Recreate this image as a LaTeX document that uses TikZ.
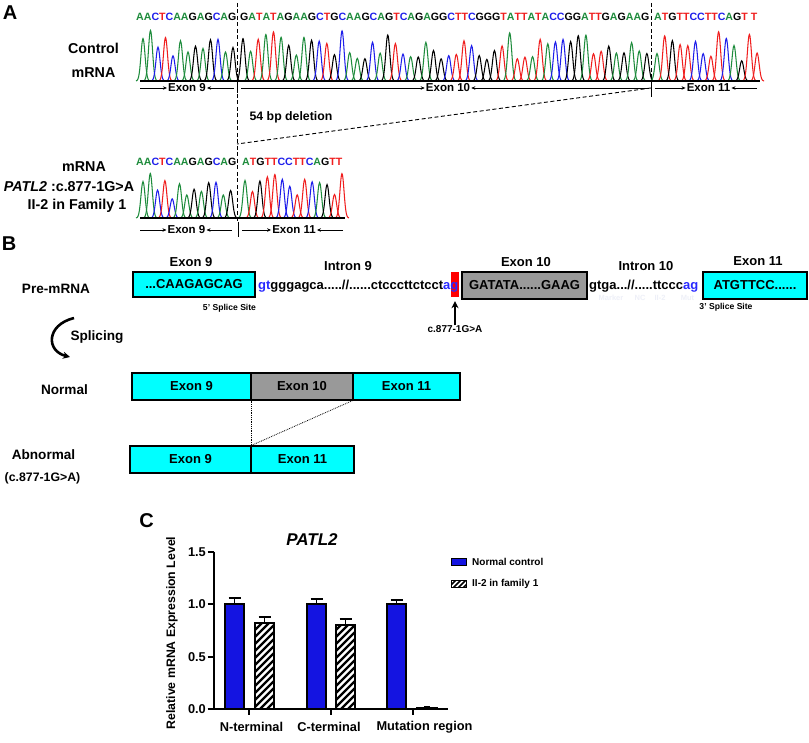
\documentclass[tikz,border=0pt]{standalone}
\usepackage{fontspec}
\setmainfont{Liberation Sans}
\usetikzlibrary{arrows.meta}
\definecolor{cA}{RGB}{30,140,60}
\definecolor{cC}{RGB}{30,30,235}
\definecolor{cG}{RGB}{0,0,0}
\definecolor{cT}{RGB}{240,30,30}
\definecolor{cyanb}{RGB}{0,255,255}
\definecolor{grayb}{RGB}{153,153,153}
\definecolor{blueb}{RGB}{20,20,225}
\definecolor{blueseq}{RGB}{40,40,255}
\definecolor{ghost}{RGB}{238,240,248}
\newcommand\myfs[1]{\fontsize{#1}{#1}\selectfont\bfseries}
\newcommand\seqc[1]{\if A#1\textcolor{cA}{A}\else\if C#1\textcolor{cC}{C}\else\if G#1\textcolor{cG}{G}\else\if T#1\textcolor{cT}{T}\else#1\fi\fi\fi\fi}
\newcommand\seqloop[1]{\ifx\relax#1\else\seqc{#1}\expandafter\seqloop\fi}
\newcommand\dna[1]{\seqloop#1\relax}
\newcommand\chrom[6]{%
  \foreach \bs [count=\ii] in #1 {%
    \pgfmathsetmacro\px{#2+(\ii-1)*#3}%
    \pgfmathsetmacro\ph{#5+#6*rnd}%
    \draw[c\bs,peakline] plot[domain=-7:7,samples=23,smooth] ({\px+(\x)},{#4-\ph*exp(-0.12*(\x)*(\x))});
  }}
\newcommand\bluebar[4]{%
  \pgfmathsetmacro\yt{709-104.67*#3}\pgfmathsetmacro\ye{709-104.67*#4}\pgfmathsetmacro\xc{(#1+#2)/2}%
  \draw[errl] (\xc,\yt) -- (\xc,\ye) (\xc-6,\ye) -- (\xc+6,\ye);
  \draw[barl,fill=blueb] (#1,709) rectangle (#2,\yt);}
\newcommand\hatchbar[4]{%
  \pgfmathsetmacro\yt{709-104.67*#3}\pgfmathsetmacro\ye{709-104.67*#4}\pgfmathsetmacro\xc{(#1+#2)/2}%
  \draw[errl] (\xc,\yt) -- (\xc,\ye) (\xc-6,\ye) -- (\xc+6,\ye);
  \fill[white] (#1,709) rectangle (#2,\yt);
  \begin{scope}
    \clip (#1,709) rectangle (#2,\yt);
    \foreach \k in {-110,-103,...,30} {\draw[line width=2.3pt] ({#1+\k},712) -- ({#1+\k+115},597);}
  \end{scope}
  \draw[barl] (#1,709) rectangle (#2,\yt);}
\def\seqTa{A,A,C,T,C,A,A,G,A,G,C,A,G}
\def\seqTb{G,A,T,A,T,A,G,A,A,G,C,T,G,C,A,A,G,C,A,G,T,C,A,G,A,G,G,C,T,T,C,G,G,G,T,A,T,T,A,T,A,C,C,G,G,A,T,T,G,A,G,A,A,G}
\def\seqTc{A,T,G,T,T,C,C,T,T,C,A,G,T,T}
\begin{document}
\begin{tikzpicture}[x=1pt,y=-1pt,
  panel/.style={inner sep=0pt,font=\myfs{20}},
  lab/.style={inner sep=0pt,font=\myfs{14.3}},
  labB/.style={inner sep=0pt,font=\myfs{13.6}},
  exl/.style={inner sep=0pt,font=\myfs{13}},
  seqt/.style={inner sep=0pt,font=\myfs{10.6}},
  peakline/.style={line width=1.05pt},
  exlab/.style={inner sep=1pt,font=\myfs{11.5}},
  exarr/.style={-{Stealth[length=4pt,width=3.5pt]},line width=0.7pt},
  dshl/.style={dashed,dash pattern=on 4pt off 2.5pt,line width=0.9pt},
  cbox/.style={draw,line width=1.4pt,fill=cyanb,inner sep=0pt,font=\myfs{13}},
  btxt/.style={inner sep=0pt,font=\myfs{13}},
  ssite/.style={inner sep=0pt,font=\myfs{8.6}},
  dotl/.style={densely dotted,line width=0.8pt},
  splarr/.style={-{Stealth[length=7pt,width=7pt]},line width=2.6pt},
  mutarr/.style={-{Stealth[length=7pt,width=7pt]},line width=1.6pt},
  axisl/.style={line width=1.8pt},
  barl/.style={line width=1.8pt},
  errl/.style={line width=1.5pt},
  tick/.style={inner sep=0pt,font=\myfs{12.8}},
  legt/.style={inner sep=0pt,font=\myfs{10}}]
\useasboundingbox (0,0) rectangle (809,743);
\fill[white] (0,0) rectangle (809,743);

% ================= Panel A =================
\node[panel] (pA) at (10,13) {A};
\node[lab] (ctl) at (93.5,48) {Control};
\node[lab] (cm) at (93.5,73) {mRNA};

\node[seqt,anchor=base west] (sq1) at (136,21) {\dna{AACTCAAGAGCAG}};
\node[seqt,anchor=base west] (sq2) at (240,21) {\dna{GATATAGAAGCTGCAAGCAGTCAGAGGCTTCGGGTATTATACCGGATTGAGAAG}};
\node[seqt,anchor=base west] (sq3) at (654,21) {\dna{ATGTTCCTTCAGT}\ \dna{T}};

\pgfmathsetseed{11}
\chrom{\seqTa}{143}{7.5}{81}{24}{28}
\chrom{\seqTb}{243}{7.62}{81}{20}{32}
\chrom{\seqTc}{657}{7.7}{81}{20}{32}
\draw[line width=1.1pt] (140,81) -- (760,81);

% exon arrows (top)
\node[exlab] (t9) at (187,88) {Exon 9};
\coordinate (t9a) at (140,88); \coordinate (t9b) at (234,88);
\draw[exarr] (t9a) -- (t9.west); \draw[exarr] (t9b) -- (t9.east);
\node[exlab] (t10) at (448,88) {Exon 10};
\coordinate (t10a) at (241,88); \coordinate (t10b) at (648,88);
\draw[exarr] (t10a) -- (t10.west); \draw[exarr] (t10b) -- (t10.east);
\node[exlab] (t11) at (708.5,88) {Exon 11};
\coordinate (t11a) at (655,88); \coordinate (t11b) at (757,88);
\draw[exarr] (t11a) -- (t11.west); \draw[exarr] (t11b) -- (t11.east);

% dashed guides
\coordinate (dl1) at (237,3); \coordinate (dl2) at (237,222);
\coordinate (dr1) at (651,3); \coordinate (dr2) at (651,88);
\coordinate (dd) at (237,144);
\draw[dshl] (dl1) -- (dl2);
\draw[dshl] (dr1) -- (dr2);
\draw[dshl] (dr2) -- (dd);
\coordinate (tk1) at (651,80); \coordinate (tk2) at (651,97);
\draw[line width=1pt] (tk1) -- (tk2);
\coordinate (tk3) at (237,83); \coordinate (tk4) at (237,93);
\draw[line width=1pt] (tk3) -- (tk4);

\node[inner sep=0pt,font=\myfs{12.3}] (del) at (291,117) {54 bp deletion};

% lower chromatogram
\node[lab] (lm) at (84,167) {mRNA};
\node[lab] (lp) at (69,187) {\textit{PATL2} :c.877-1G>A};
\node[lab] (lf) at (77,206) {II-2 in Family 1};
\node[seqt,anchor=base west] (sq4) at (136,166) {\dna{AACTCAAGAGCAG}};
\node[seqt,anchor=base west] (sq5) at (242,166) {\dna{ATGTTCCTTCAGTT}};
\pgfmathsetseed{11}
\chrom{\seqTa}{143}{7.3}{218}{18}{28}
\chrom{\seqTc}{245}{7.46}{218}{18}{28}
\draw[line width=1.1pt] (140,218) -- (345,218);
\node[exlab] (l9) at (186.5,230) {Exon 9};
\coordinate (l9a) at (140,230); \coordinate (l9b) at (232,230);
\draw[exarr] (l9a) -- (l9.west); \draw[exarr] (l9b) -- (l9.east);
\node[exlab] (l11) at (294,230) {Exon 11};
\coordinate (l11a) at (242,230); \coordinate (l11b) at (343,230);
\draw[exarr] (l11a) -- (l11.west); \draw[exarr] (l11b) -- (l11.east);
\coordinate (tk5) at (238,222); \coordinate (tk6) at (238,237);
\draw[line width=1pt] (tk5) -- (tk6);

% ================= Panel B =================
\node[panel] (pB) at (9,244) {B};
\node[labB] (pre) at (56,289) {Pre-mRNA};
\node[exl] (lx9) at (191,262) {Exon 9};
\node[cbox,minimum width=122pt,minimum height=25pt] (bx9) at (194,284.5) {...CAAGAGCAG};
\node[ssite] (ss5) at (229.5,308) {5' Splice Site};
\node[exl] (in9) at (348,266) {Intron 9};
\node[fill=red,inner sep=0pt,minimum width=8pt,minimum height=25pt] (redbox) at (455,284.5) {};
\node[btxt,anchor=base west] (int9) at (258,289.5) {\textcolor{blueseq}{gt}gggagca.....//......ctcccttctcct\textcolor{blueseq}{ag}};
\node[inner sep=0pt,font=\myfs{10}] (mutl) at (455,329) {c.877-1G>A};
\draw[mutarr] (mutl.north) -- ([yshift=-4pt]redbox.south);
\node[exl] (lx10) at (526,262) {Exon 10};
\node[cbox,fill=grayb,minimum width=125pt,minimum height=27pt] (bx10) at (524.5,285.5) {GATATA......GAAG};
\node[exl] (in10) at (646,266) {Intron 10};
\node[btxt,anchor=base west] (int10) at (589,289.5) {gtga...//.....ttccc\textcolor{blueseq}{ag}};
\node[inner sep=0pt,font=\myfs{7.5},text=ghost] (g1) at (611,298) {Marker};
\node[inner sep=0pt,font=\myfs{7.5},text=ghost] (g2) at (640,298) {NC};
\node[inner sep=0pt,font=\myfs{7.5},text=ghost] (g3) at (660,298) {II-2};
\node[inner sep=0pt,font=\myfs{7.5},text=ghost] (g4) at (687.5,298) {Mut};
\node[exl] (lx11) at (758,261) {Exon 11};
\node[cbox,minimum width=104pt,minimum height=27pt] (bx11) at (755,285.5) {ATGTTCC......};
\node[ssite] (ss3) at (726,307) {3' Splice Site};

% splicing
\node[labB] (spl) at (97,337) {Splicing};
\coordinate (sp1) at (74,318); \coordinate (sp2) at (70,357);
\draw[splarr] (sp1) .. controls (46,325) and (46,351) .. (sp2);

% normal / abnormal
\node[labB] (nl) at (64.5,390) {Normal};
\node[cbox,minimum width=119pt,minimum height=27pt] (n9) at (191.5,386.5) {Exon 9};
\node[cbox,fill=grayb,minimum width=102pt,minimum height=27pt] (n10) at (302,386.5) {Exon 10};
\node[cbox,minimum width=107pt,minimum height=27pt] (n11) at (406.5,386.5) {Exon 11};
\node[labB] (abl) at (43.5,455) {Abnormal};
\node[inner sep=0pt,font=\myfs{12.3}] (abm) at (42.5,478) {(c.877-1G>A)};
\node[cbox,minimum width=121pt,minimum height=27pt] (a9) at (190.5,459.5) {Exon 9};
\node[cbox,minimum width=103pt,minimum height=27pt] (a11) at (302.5,459.5) {Exon 11};
\draw[dotl] (n9.south east) -- (a9.north east);
\draw[dotl] (n11.south west) -- (a9.north east);

% ================= Panel C =================
\node[panel] (pC) at (146.5,520.5) {C};
\node[inner sep=0pt,font=\fontsize{17}{17}\selectfont\bfseries\itshape] (ttl) at (312,540) {PATL2};
\node[rotate=90,inner sep=0pt,font=\myfs{12.3}] (ylab) at (172,633) {Relative mRNA Expression Level};

\bluebar{225}{244}{1}{1.06}
\hatchbar{255}{274}{0.82}{0.88}
\bluebar{307}{326}{1}{1.05}
\hatchbar{336}{355}{0.80}{0.86}
\bluebar{387}{406}{1}{1.04}
\draw[line width=1.2pt,fill=white] (417,709) rectangle (437,707.3);
\draw[line width=1pt] (427,707.3) -- (427,706.5) (424,706.5) -- (430,706.5);

\coordinate (ax0) at (214,709); \coordinate (axt) at (214,551.5); \coordinate (axr) at (448,709);
\draw[axisl] (axt) -- (ax0) -- (axr);
\foreach \v/\t [count=\n] in {0/0.0,0.5/0.5,1/1.0,1.5/1.5} {
  \pgfmathsetmacro\yy{709-104.67*\v}
  \draw[axisl] (207.5,\yy) -- (214,\yy);
  \node[tick,anchor=east] (yt\n) at (206,\yy) {\t};
}
\foreach \xx [count=\n] in {249,331,413} {
  \draw[axisl] (\xx,709) -- (\xx,714.5);
}
\node[tick] (cN) at (251.5,727) {N-terminal};
\node[tick] (cCt) at (329,727) {C-terminal};
\node[tick] (cM) at (424.5,727) {Mutation region};

% legend
\node[draw,line width=1.5pt,fill=blueb,minimum width=15pt,minimum height=7pt,inner sep=0pt] (lg1) at (459,562) {};
\node[legt,anchor=west] (lg1t) at (472,562) {Normal control};
\begin{scope}
  \clip (451.5,580.5) rectangle (466.5,587.5);
  \foreach \k in {-10,-5,...,20} {\draw[line width=1.6pt] ({451+\k},590) -- ({451+\k+12},578);}
\end{scope}
\node[draw,line width=1.5pt,minimum width=15pt,minimum height=7pt,inner sep=0pt] (lg2) at (459,584) {};
\node[legt,anchor=west] (lg2t) at (472,584) {II-2 in family 1};
\end{tikzpicture}
\end{document}
